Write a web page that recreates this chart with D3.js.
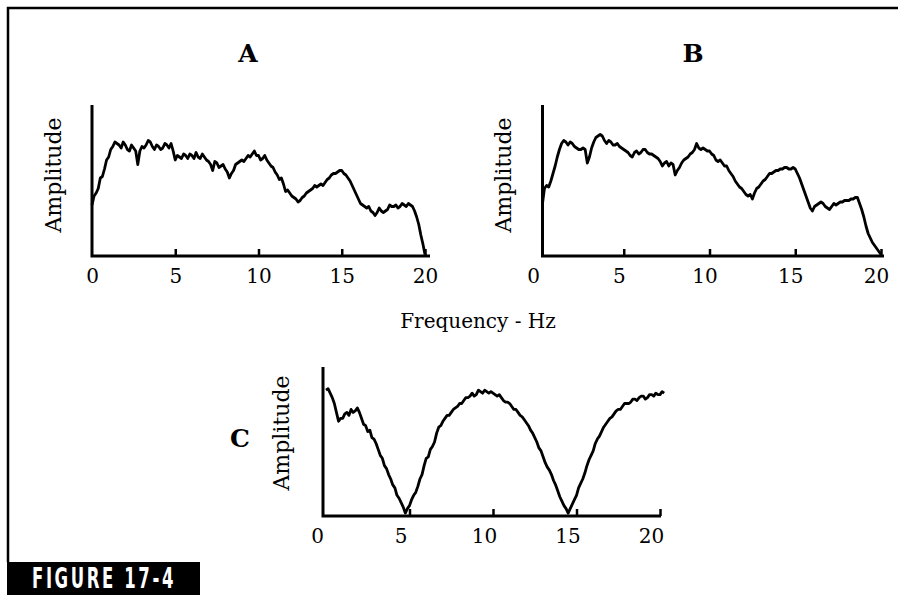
<!DOCTYPE html>
<html><head><meta charset="utf-8">
<script src="https://cdn.jsdelivr.net/npm/d3@7"></script>
<style>
html,body{margin:0;padding:0;background:#fff;}
svg{display:block;}
</style></head>
<body>
<svg id="chart" width="898" height="595"></svg>
<script>
// ---- data ----
const panelTitles = ["A", "B", "C"];
const xTickValues = [0, 5, 10, 15, 20];
const xAxisTitle = "Frequency - Hz";
const yAxisTitle = "Amplitude";
const figureLabel = "FIGURE 17-4";
const sampleStep = 0.125; // Hz between samples

// Spectrum A, from 0 Hz
const startA = 0;
const ampA = [34,40,42,45,52,53,58,64,66,71,73,76,75,74,72,76,74,71,70,74,
  72,70,61,70,73,72,74,77,76,73,71,74,73,71,72,75,74,72,75,70,
  64,67,66,65,68,67,65,68,67,65,69,66,65,68,66,64,63,61,57,63,
  62,59,60,61,58,56,52,55,57,61,62,63,64,63,65,67,66,68,70,67,
  67,64,65,67,64,62,60,59,56,54,51,52,48,43,44,42,40,39,38,36,
  37,39,40,42,43,44,45,47,46,47,48,47,49,51,52,54,55,55,56,57,
  57,55,54,52,50,47,44,41,38,35,34,33,32,33,30,29,27,29,32,30,
  29,30,31,34,33,33,34,32,33,35,34,33,35,34,33,30,26,21,14,8,1];

// Spectrum B, from 0.25 Hz
const startB = 0.25;
const ampB = [34,45,47,46,50,55,60,66,71,75,77,76,74,76,75,73,72,71,71,72,
  71,62,66,72,76,79,80,81,80,77,75,77,76,74,74,75,73,72,71,70,
  69,67,66,69,70,68,69,71,71,69,68,68,67,66,65,63,60,62,63,60,
  62,61,54,57,59,62,64,65,66,68,69,71,75,72,71,72,71,70,70,68,
  67,64,63,64,62,60,60,57,55,53,50,48,46,45,43,41,40,41,38,42,
  45,46,48,50,51,53,55,55,56,57,57,58,58,59,59,58,58,59,58,55,
  52,48,44,40,36,32,30,33,34,35,36,35,33,32,31,33,35,34,35,36,
  36,37,37,37,38,38,39,39,35,31,26,20,15,12,9,7,5,3,1];

// Spectrum C, from 0 Hz
const startC = 0;
const ampC = [85,86,83,80,76,70,64,66,66,69,70,68,72,70,71,73,70,66,62,61,
  57,58,53,52,49,45,41,39,34,32,28,25,21,19,14,12,9,6,2,5,
  7,11,14,16,20,25,28,34,39,40,45,47,50,56,60,61,64,66,68,68,
  70,72,73,74,76,76,78,80,80,81,83,81,82,85,84,83,85,84,83,84,
  83,82,81,82,80,78,77,77,76,74,72,72,70,68,67,65,63,61,58,56,
  53,50,46,44,40,36,33,31,28,24,21,17,13,10,7,5,2,5,8,11,
  14,19,22,25,29,34,38,41,44,49,52,54,57,60,62,64,66,67,69,71,
  72,72,74,76,76,76,77,79,79,78,80,81,81,79,80,82,82,81,83,82,
  82,84,83];

// ---- drawing ----
const svg = d3.select("#chart");
const serif = "'DejaVu Serif', 'Liberation Serif', serif";

// frame
svg.append("path").attr("d", "M8,562 V8 H898")
  .attr("fill", "none").attr("stroke", "#000").attr("stroke-width", 2.5);
svg.append("rect").attr("x", 7).attr("y", 562).attr("width", 193).attr("height", 33).attr("fill", "#000");
svg.append("text").attr("x", 32).attr("y", 588)
  .attr("fill", "#fff").attr("font-family", "'DejaVu Sans Condensed','DejaVu Sans',sans-serif")
  .attr("font-weight", "bold").attr("font-size", 28).attr("letter-spacing", 4)
  .attr("textLength", 144).attr("lengthAdjust", "spacingAndGlyphs")
  .text(figureLabel);

const panels = [
  {title: panelTitles[0], start: startA, amp: ampA, x0: 92, x1: 425, axisEnd: 430, yTop: 105, yBot: 256,
   titleX: 248, titleY: 62, ampX: 54, ampY: 175, labelDx: 0},
  {title: panelTitles[1], start: startB, amp: ampB, x0: 538, x1: 881, axisStart: 542.5, axisEnd: 884, yTop: 105, yBot: 256,
   titleX: 693, titleY: 62, ampX: 504, ampY: 175, labelDx: -5},
  {title: panelTitles[2], start: startC, amp: ampC, x0: 326, x1: 660, axisStart: 323, axisEnd: 661, yTop: 367, yBot: 516,
   titleX: 240, titleY: 447, ampX: 282, ampY: 433, labelDx: -9}
];

panels.forEach(p => {
  const x = d3.scaleLinear().domain([0, 20]).range([p.x0, p.x1]);
  const y = d3.scaleLinear().domain([0, 100]).range([p.yBot, p.yTop + 1]);
  const ax = p.axisStart !== undefined ? p.axisStart : p.x0;
  const g = svg.append("g");

  const axis = d3.axisBottom(x).tickValues(xTickValues).tickFormat(d3.format("d"))
    .tickSizeInner(-7).tickSizeOuter(0).tickPadding(13);
  const ag = g.append("g").attr("transform", `translate(0,${p.yBot})`).call(axis);
  ag.select(".domain").remove();
  ag.selectAll(".tick line").attr("stroke", "#000").attr("stroke-width", 2.5)
    .filter(d => d === 0).remove();
  ag.selectAll(".tick text").attr("font-family", serif).attr("font-size", 20)
    .attr("fill", "#000").attr("dx", p.labelDx);

  g.append("path").attr("d", `M${ax},${p.yTop} V${p.yBot} H${p.axisEnd}`)
    .attr("fill", "none").attr("stroke", "#000").attr("stroke-width", 3);

  const line = d3.line().x((d, i) => x(p.start + i * sampleStep)).y(d => y(d));
  g.append("path").datum(p.amp).attr("d", line)
    .attr("fill", "none").attr("stroke", "#000").attr("stroke-width", 2.8)
    .attr("stroke-linejoin", "round");

  g.append("text").attr("transform", `translate(${p.ampX + 7},${p.ampY}) rotate(-90)`)
    .attr("text-anchor", "middle").attr("font-family", serif).attr("font-size", 22)
    .text(yAxisTitle);

  g.append("text").attr("x", p.titleX).attr("y", p.titleY).attr("text-anchor", "middle")
    .attr("font-family", serif).attr("font-weight", "bold").attr("font-size", 25)
    .text(p.title);
});

svg.append("text").attr("x", 478).attr("y", 328).attr("text-anchor", "middle")
  .attr("font-family", serif).attr("font-size", 20).text(xAxisTitle);
</script>
</body></html>
